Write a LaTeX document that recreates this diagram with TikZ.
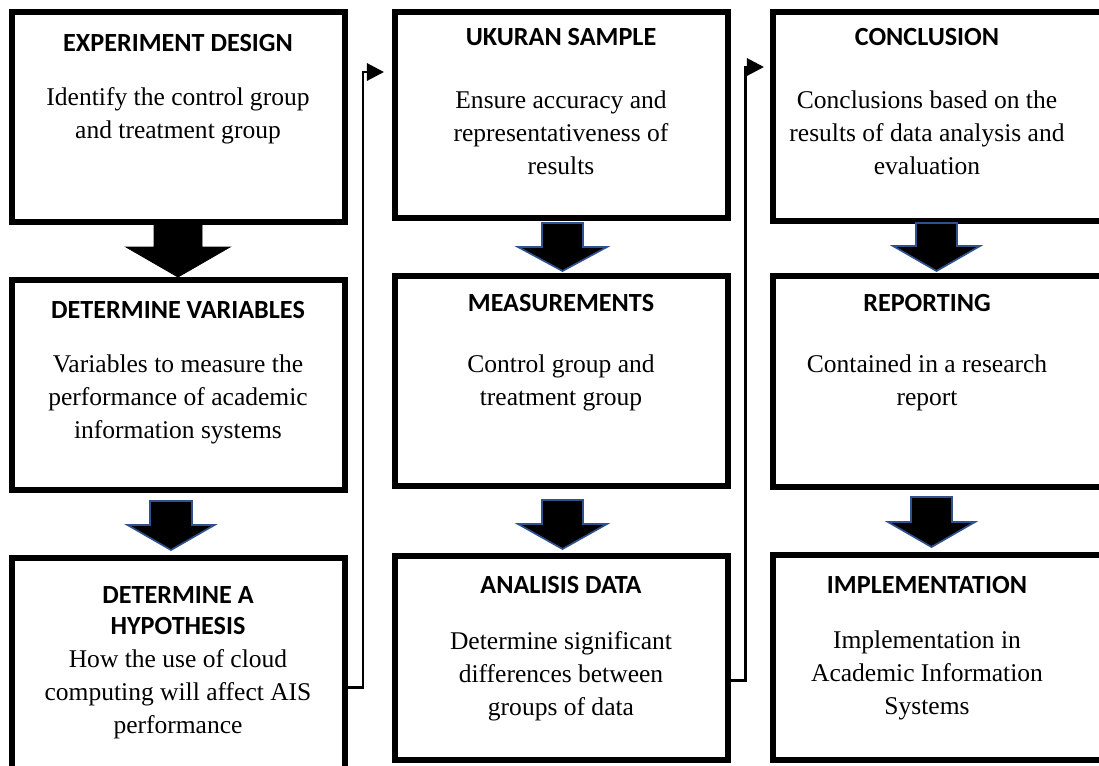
\documentclass[tikz,border=0pt]{standalone}
\usepackage{fontspec}
\setmainfont{Liberation Serif}
\newfontfamily\headfont{Carlito}
\newfontfamily\bodyfont{Liberation Serif}
\usetikzlibrary{fit,arrows.meta}
\definecolor{arrowblue}{RGB}{47,82,143}
\newcommand{\fl}{\rule{0pt}{9.4pt}}
\newcommand{\blkarrow}[7]{%
  \filldraw[#1] ({#2-#3},#5) -- ({#2+#3},#5) -- ({#2+#3},#6) -- ({#2+#4},#6) -- (#2,#7) -- ({#2-#4},#6) -- ({#2-#3},#6) -- cycle;}
\begin{document}
\begin{tikzpicture}[x=0.47pt,y=-0.47pt,
  box/.style={draw=black,line width=3pt,inner sep=0pt,outer sep=0pt},
  head/.style={inner sep=0pt,outer sep=0pt,anchor=north,align=center,font={\headfont\bfseries\fontsize{12.3}{15}\selectfont}},
  body/.style={inner sep=0pt,outer sep=0pt,anchor=north,align=center,font={\bodyfont\fontsize{12}{15.6}\selectfont}},
  blackarr/.style={fill=black,draw=black,line width=0.4pt,line join=miter},
  bluearr/.style={fill=black,draw=arrowblue,line width=0.8pt,line join=miter},
  conn/.style={draw=black,line width=1.4pt,-{Triangle[length=8pt,width=8pt]}}]
\clip (0,0) rectangle (1099,765);
% boxes
\node[box,fit={(12,12) (345,222)}] (b11) {};
\node[box,fit={(12,280) (345,490)}] (b12) {};
\node[box,fit={(12,558) (345,800)}] (b13) {};
\node[box,fit={(395,12) (728,218)}] (b21) {};
\node[box,fit={(395,276) (728,486)}] (b22) {};
\node[box,fit={(395,556) (728,760)}] (b23) {};
\node[box,fit={(773,12) (1115,221)}] (b31) {};
\node[box,fit={(773,276) (1115,487)}] (b32) {};
\node[box,fit={(773,555) (1115,760)}] (b33) {};
% block arrows
\blkarrow{blackarr}{178}{24}{52}{224}{247}{277}
\blkarrow{bluearr}{171}{21}{43.5}{501}{525}{550}
\blkarrow{bluearr}{562.5}{20.5}{44.5}{223}{247}{271}
\blkarrow{bluearr}{562.5}{20.5}{44.5}{500}{524}{549}
\blkarrow{bluearr}{936.5}{20.5}{43.5}{223}{246}{271}
\blkarrow{bluearr}{931.5}{20.5}{43.5}{497}{522}{547}
% texts column 1
\node[head] (h11) at (178,31) {\fl EXPERIMENT DESIGN};
\node[body] (t11) at (178,85) {\fl Identify the control group\\and treatment group};
\node[head] (h12) at (178,298) {\fl DETERMINE VARIABLES};
\node[body] (t12) at (178,352) {\fl Variables to measure the\\performance of academic\\information systems};
\node[head] (h13) at (178,583) {\fl DETERMINE A\\HYPOTHESIS};
\node[body] (t13) at (178,647) {\fl How the use of cloud\\computing will affect AIS\\performance};
% texts column 2
\node[head] (h21) at (561,25) {\fl UKURAN SAMPLE};
\node[body] (t21) at (561,88) {\fl Ensure accuracy and\\representativeness of\\results};
\node[head] (h22) at (561,291) {\fl MEASUREMENTS};
\node[body] (t22) at (561,352) {\fl Control group and\\treatment group};
\node[head] (h23) at (561,573) {\fl ANALISIS DATA};
\node[body] (t23) at (561,629) {\fl Determine significant\\differences between\\groups of data};
% texts column 3
\node[head] (h31) at (927,25) {\fl CONCLUSION};
\node[body] (t31) at (927,88) {\fl Conclusions based on the\\results of data analysis and\\evaluation};
\node[head] (h32) at (927,291) {\fl REPORTING};
\node[body] (t32) at (927,352) {\fl Contained in a research\\report};
\node[head] (h33) at (927,573) {\fl IMPLEMENTATION};
\node[body] (t33) at (927,628) {\fl Implementation in\\Academic Information\\Systems};
% connectors
\coordinate (y1) at (0,687);
\coordinate (k1) at (363,72);
\coordinate (e1) at (384,72);
\draw[conn] (b13.east |- y1) -| (k1) -- (e1);
\coordinate (y2) at (0,680);
\coordinate (k2) at (745,67);
\coordinate (e2) at (764,67);
\draw[conn] (b23.east |- y2) -| (k2) -- (e2);
\end{tikzpicture}
\end{document}
